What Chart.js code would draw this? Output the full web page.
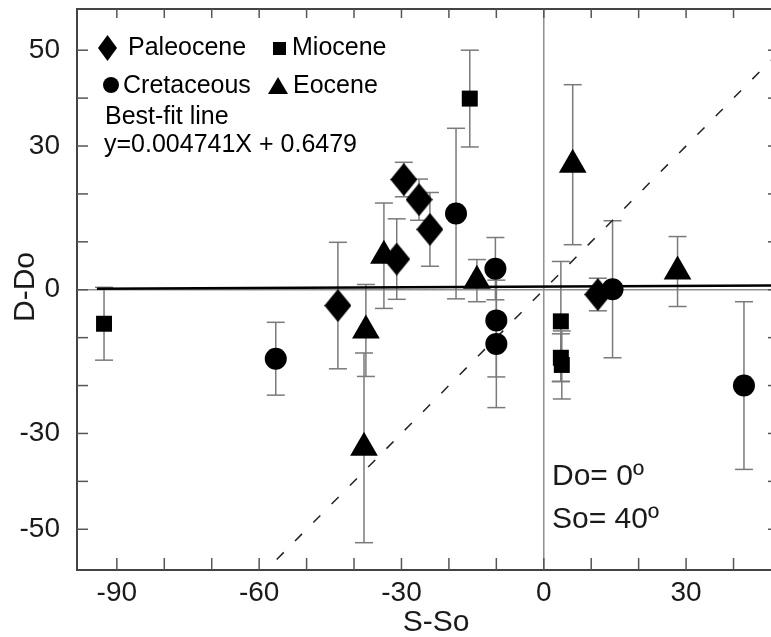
<!DOCTYPE html>
<html>
<head>
<meta charset="utf-8">
<script src="https://cdn.jsdelivr.net/npm/chart.js@4.4.1/dist/chart.umd.min.js"></script>
<style>
  html, body { margin: 0; padding: 0; background: #fff; overflow: hidden; }
  canvas { display: block; }
</style>
</head>
<body>
<canvas id="chart" width="771" height="637"></canvas>
<script>
// Paleocene (diamonds)
const paleoX = [-43.4, -31.0, -29.5, -26.3, -24.0, 11.4];
const paleoY = [-3.3, 6.4, 23.0, 18.8, 12.6, -1.0];
const paleoErr = [13.2, 8.4, 3.6, 4.3, 7.7, 3.4];
// Miocene (squares)
const mioX = [-92.7, -15.6, 3.6, 3.6, 3.8];
const mioY = [-7.1, 39.9, -6.6, -14.2, -15.7];
const mioErr = [7.6, 10.1, 12.5, 5.0, 7.1];
// Cretaceous (circles)
const cretX = [-56.5, -18.5, -10.2, -10.0, -10.0, 14.5, 42.2];
const cretY = [-14.4, 15.9, 4.4, -6.4, -11.3, 0.1, -20.0];
const cretErr = [7.6, 17.8, 6.5, 11.8, 13.3, 14.3, 17.5];
// Eocene (triangles)
const eoceneX = [-37.9, -37.5, -33.7, -14.1, 6.1, 28.2];
const eoceneY = [-33.0, -8.5, 7.1, 1.9, 26.1, 3.8];
const eoceneErr = [19.8, 9.6, 11.0, 4.4, 16.7, 7.3];

const xTickLabels = [-90, -60, -30, 0, 30];
const yTickLabels = [-50, -30, 0, 30, 50];
const minorStep = 10;

// best-fit line and the 1:1 reference line
const fitSlope = 0.004741;
const fitIntercept = 0.6479;
const fitRange = [-94.2, 47.9];
const oneToOneRange = [-56.3, 47.9];

const FONT = '"Liberation Sans", Arial, Helvetica, sans-serif';
Chart.defaults.font.family = FONT;

const pts = (xs, ys) => xs.map((v, i) => ({ x: v, y: ys[i] }));

function diamondImage(w, h) {
  const c = document.createElement('canvas');
  c.width = w; c.height = h;
  const g = c.getContext('2d');
  g.fillStyle = '#000';
  g.beginPath();
  g.moveTo(w / 2, 0); g.lineTo(w, h / 2); g.lineTo(w / 2, h); g.lineTo(0, h / 2);
  g.closePath(); g.fill();
  return c;
}

const series = [
  { label: 'Paleocene', xs: paleoX, ys: paleoY, err: paleoErr, style: diamondImage(27, 33), r: 15 },
  { label: 'Miocene', xs: mioX, ys: mioY, err: mioErr, style: 'rect', r: 11.3 },
  { label: 'Cretaceous', xs: cretX, ys: cretY, err: cretErr, style: 'circle', r: 11 },
  { label: 'Eocene', xs: eoceneX, ys: eoceneY, err: eoceneErr, style: 'triangle', r: 16 }
];

function seg(ctx, x1, y1, x2, y2) {
  ctx.beginPath(); ctx.moveTo(x1, y1); ctx.lineTo(x2, y2); ctx.stroke();
}

const decor = {
  id: 'decor',
  beforeDatasetsDraw(chart) {
    const { ctx, chartArea: a, scales: { x, y } } = chart;
    ctx.save();
    ctx.strokeStyle = '#8f8f8f';
    ctx.lineWidth = 1.5;
    const x0 = x.getPixelForValue(0), y0 = y.getPixelForValue(0);
    seg(ctx, x0, a.top, x0, a.bottom);
    seg(ctx, a.left, y0, a.right, y0);
    // error bars
    ctx.strokeStyle = '#7a7a7a';
    ctx.lineWidth = 1.5;
    series.forEach(s => {
      s.xs.forEach((xv, i) => {
        const px = x.getPixelForValue(xv);
        const top = y.getPixelForValue(s.ys[i] + s.err[i]);
        const bot = y.getPixelForValue(s.ys[i] - s.err[i]);
        seg(ctx, px, top, px, bot);
        seg(ctx, px - 9, top, px + 9, top);
        seg(ctx, px - 9, bot, px + 9, bot);
      });
    });
    ctx.restore();
  },
  afterDraw(chart) {
    const { ctx, chartArea: a, scales: { x, y } } = chart;
    ctx.save();
    // frame
    ctx.strokeStyle = '#444';
    ctx.lineWidth = 2;
    seg(ctx, a.left, a.top, a.right, a.top);
    seg(ctx, a.left, a.top - 1, a.left, a.bottom + 1);
    seg(ctx, a.left, a.bottom, a.right, a.bottom);
    // inward tick marks
    ctx.strokeStyle = '#555';
    ctx.lineWidth = 1.5;
    for (let v = Math.ceil(x.min / minorStep) * minorStep; v <= x.max; v += minorStep) {
      const px = x.getPixelForValue(v);
      seg(ctx, px, a.bottom, px, a.bottom - 12);
      seg(ctx, px, a.top, px, a.top + 9);
    }
    for (let v = Math.ceil(y.min / minorStep) * minorStep; v <= y.max; v += minorStep) {
      const py = y.getPixelForValue(v);
      seg(ctx, a.left, py, a.left + 11, py);
      seg(ctx, a.right, py, a.right - 3, py);
    }
    // axis titles
    ctx.fillStyle = '#1a1a1a';
    ctx.font = '30px ' + FONT;
    ctx.textAlign = 'center';
    ctx.textBaseline = 'middle';
    ctx.fillText('S-So', 436, 623);
    ctx.save();
    ctx.translate(26, 287);
    ctx.rotate(-Math.PI / 2);
    ctx.fillText('D-Do', 0, 0);
    ctx.restore();
    // annotation
    ctx.textAlign = 'left';
    ctx.textBaseline = 'alphabetic';
    ctx.fillText('Do= 0º', 552, 485);
    ctx.fillText('So= 40º', 552, 528);
    // legend
    ctx.font = '25px ' + FONT;
    ctx.fillStyle = '#000';
    ctx.drawImage(diamondImage(19, 26), 98, 35);
    ctx.fillText('Paleocene', 128, 55);
    ctx.fillRect(273, 42, 13, 13);
    ctx.fillText('Miocene', 292, 55);
    ctx.beginPath(); ctx.arc(111, 85, 8, 0, Math.PI * 2); ctx.fill();
    ctx.fillText('Cretaceous', 123, 93);
    ctx.beginPath(); ctx.moveTo(278, 77); ctx.lineTo(288, 94); ctx.lineTo(268, 94); ctx.closePath(); ctx.fill();
    ctx.fillText('Eocene', 293, 93);
    ctx.fillText('Best-fit line', 105, 124);
    ctx.fillText('y=' + fitSlope + 'X + ' + fitIntercept, 104, 152);
    ctx.restore();
  }
};

const lineAt = (range, f) => range.map(v => ({ x: v, y: f(v) }));

new Chart(document.getElementById('chart'), {
  type: 'scatter',
  data: {
    datasets: [
      ...series.map(s => ({
        label: s.label,
        data: pts(s.xs, s.ys),
        pointStyle: s.style,
        pointRadius: s.r,
        pointHoverRadius: s.r,
        backgroundColor: '#000',
        borderColor: '#000',
        borderWidth: 0
      })),
      {
        label: 'Best-fit line',
        data: lineAt(fitRange, v => fitSlope * v + fitIntercept),
        showLine: true, pointRadius: 0, borderColor: '#000', borderWidth: 2.5
      },
      {
        label: '1:1',
        data: lineAt(oneToOneRange, v => v),
        showLine: true, pointRadius: 0, borderColor: '#222', borderWidth: 1.5, borderDash: [10, 16]
      }
    ]
  },
  options: {
    responsive: false,
    animation: false,
    layout: { autoPadding: false, padding: { top: 9, right: 0, left: 0, bottom: 0 } },
    plugins: { legend: { display: false }, tooltip: { enabled: false } },
    scales: {
      x: {
        type: 'linear', min: -98.4, max: 47.9,
        grid: { display: false, drawTicks: false }, border: { display: false },
        ticks: { font: { size: 28 }, color: '#1a1a1a', padding: 6 },
        afterBuildTicks: s => { s.ticks = xTickLabels.map(v => ({ value: v })); },
        afterFit: s => { s.height = 67; s.paddingLeft = 0; s.paddingRight = 0; }
      },
      y: {
        type: 'linear', min: -58.5, max: 58.6,
        grid: { display: false, drawTicks: false }, border: { display: false },
        ticks: { font: { size: 28 }, color: '#1a1a1a', padding: 17 },
        afterBuildTicks: s => { s.ticks = yTickLabels.map(v => ({ value: v })); },
        afterFit: s => { s.width = 77; s.paddingTop = 0; s.paddingBottom = 0; }
      }
    }
  },
  plugins: [decor]
});
</script>
</body>
</html>
